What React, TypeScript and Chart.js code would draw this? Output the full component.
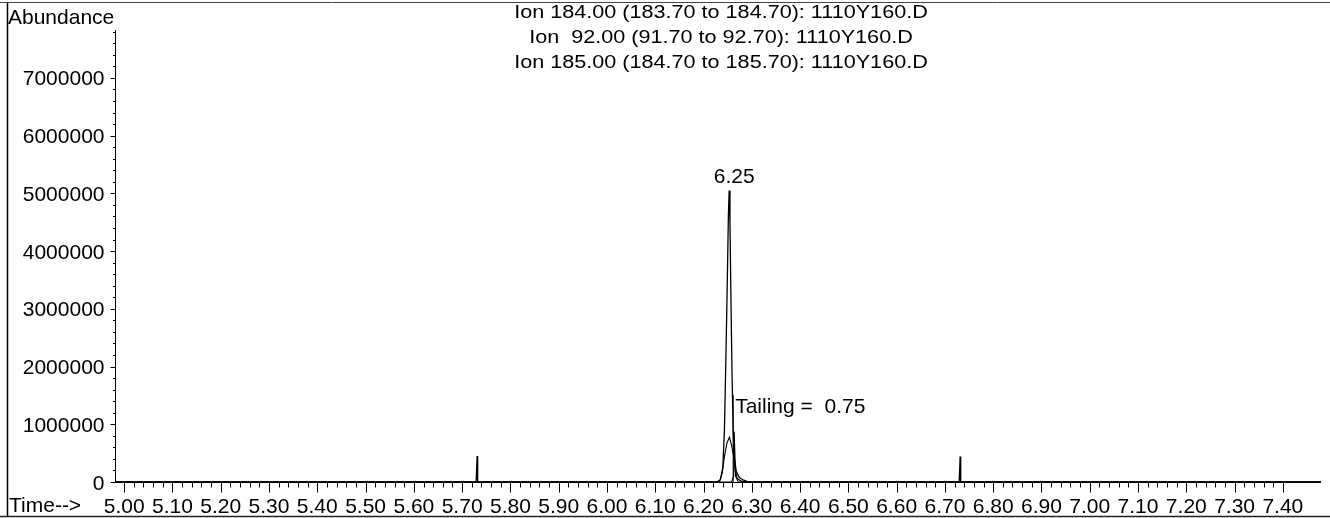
import React, { useEffect, useRef } from "react";
import { Chart, registerables } from "chart.js";

Chart.register(...registerables);

// ---- data ----
const titleLines = [
  "Ion 184.00 (183.70 to 184.70): 1110Y160.D",
  "Ion  92.00 (91.70 to 92.70): 1110Y160.D",
  "Ion 185.00 (184.70 to 185.70): 1110Y160.D",
];

const ion184Time = [4.981, 5.729, 5.7311, 5.7322, 6.228, 6.235, 6.24, 6.2433, 6.2465, 6.2489, 6.2515, 6.2531, 6.2548, 6.2566, 6.259, 6.2614, 6.264, 6.268, 6.274, 6.282, 6.29, 6.3, 6.7295, 6.7316, 6.7327, 7.479];
const ion184Abund = [0, 0, 450000, 0, 0, 40000, 250000, 900000, 2200000, 3300000, 4600000, 5050000, 4500000, 3300000, 1900000, 900000, 400000, 180000, 80000, 35000, 10000, 0, 0, 440000, 0, 0];

const ion92Time = [4.981, 6.225, 6.2336, 6.2385, 6.2433, 6.2487, 6.2538, 6.2585, 6.2627, 6.2655, 6.27, 6.278, 6.29, 7.479];
const ion92Abund = [0, 0, 20000, 150000, 440000, 680000, 775000, 620000, 440000, 200000, 60000, 15000, 0, 0];

const ion185Time = [4.981, 6.258, 6.2625, 6.2636, 6.2652, 6.2664, 6.272, 7.479];
const ion185Abund = [0, 0, 100000, 870000, 870000, 100000, 0, 0];

const tailingTime = [6.2614, 6.2614];
const tailingAbund = [0, 1510000];

const apexTime = 6.2531;
const apexAbund = 5050000;
const apexLabel = "6.25";
const tailingLabel = "Tailing =  0.75";

const xMajorTicks = [5.0, 5.1, 5.2, 5.3, 5.4, 5.5, 5.6, 5.7, 5.8, 5.9, 6.0, 6.1, 6.2, 6.3, 6.4, 6.5, 6.6, 6.7, 6.8, 6.9, 7.0, 7.1, 7.2, 7.3, 7.4];
const xTickLabels = ["5.00", "5.10", "5.20", "5.30", "5.40", "5.50", "5.60", "5.70", "5.80", "5.90", "6.00", "6.10", "6.20", "6.30", "6.40", "6.50", "6.60", "6.70", "6.80", "6.90", "7.00", "7.10", "7.20", "7.30", "7.40"];
const yMajorTicks = [0, 1000000, 2000000, 3000000, 4000000, 5000000, 6000000, 7000000];
const yTickLabels = ["0", "1000000", "2000000", "3000000", "4000000", "5000000", "6000000", "7000000"];

const X_MIN = 4.981;
const X_MAX = 7.479;
const Y_MIN = 0;
const Y_MAX = 7830000;

const toPoints = (xs: number[], ys: number[]) => xs.map((x, i) => ({ x, y: ys[i] }));

const FAMILY = '"Liberation Sans", Arial, Helvetica, sans-serif';
const FONT = "21px " + FAMILY;
const TITLE_FONT = "18px " + FAMILY;

const decorPlugin = {
  id: "decor",
  afterDraw(chart: any) {
    const ctx = chart.ctx as CanvasRenderingContext2D;
    const xs = chart.scales.x;
    const ys = chart.scales.y;
    const area = chart.chartArea;
    const W = chart.width;
    const H = chart.height;
    ctx.save();
    ctx.strokeStyle = "#000";
    ctx.fillStyle = "#000";

    // outer frame (left, top, bottom)
    ctx.lineWidth = 1.5;
    ctx.beginPath();
    ctx.moveTo(7.5, 2);
    ctx.lineTo(7.5, H - 1);
    ctx.stroke();
    ctx.strokeStyle = "#444";
    ctx.lineWidth = 1;
    ctx.beginPath();
    ctx.moveTo(0, 2.5);
    ctx.lineTo(W, 2.5);
    ctx.stroke();
    ctx.lineWidth = 1.5;
    ctx.strokeStyle = "#222";
    ctx.beginPath();
    ctx.moveTo(0, H - 1.5);
    ctx.lineTo(W, H - 1.5);
    ctx.stroke();
    ctx.strokeStyle = "#000";

    // axes
    const x0 = Math.round(area.left) + 0.5;
    const y0 = Math.round(area.bottom) + 0.5;
    ctx.lineWidth = 1;
    ctx.beginPath();
    ctx.moveTo(x0, area.top);
    ctx.lineTo(x0, y0);
    ctx.lineTo(area.right, y0);
    ctx.stroke();

    // y ticks: minor every 200000, major every 1000000
    for (let v = 0; v <= Y_MAX; v += 200000) {
      const py = Math.round(ys.getPixelForValue(v)) + 0.5;
      const major = v % 1000000 === 0;
      ctx.beginPath();
      ctx.moveTo(x0, py);
      ctx.lineTo(x0 - (major ? 5 : 2.5), py);
      ctx.stroke();
    }
    // x ticks: minor every 0.02, major every 0.1
    for (let k = 0; k <= 120; k++) {
      const v = 5.0 + k * 0.02;
      if (v > X_MAX) break;
      const px = Math.round(xs.getPixelForValue(v)) + 0.5;
      const major = k % 5 === 0;
      ctx.beginPath();
      ctx.moveTo(px, y0);
      ctx.lineTo(px, y0 + (major ? 10 : 5));
      ctx.stroke();
    }

    ctx.font = FONT;
    ctx.textBaseline = "alphabetic";

    // y tick labels
    ctx.textAlign = "right";
    yMajorTicks.forEach((v, i) => {
      const py = ys.getPixelForValue(v);
      ctx.fillText(yTickLabels[i], x0 - 11, py + 7.5);
    });
    // x tick labels
    ctx.textAlign = "center";
    xMajorTicks.forEach((v, i) => {
      const px = xs.getPixelForValue(v);
      ctx.fillText(xTickLabels[i], px, 513);
    });

    // axis titles
    ctx.textAlign = "left";
    ctx.fillText("Abundance", 8, 24);
    ctx.fillText("Time-->", 9, 512);

    // annotations
    ctx.textAlign = "center";
    ctx.fillText(apexLabel, xs.getPixelForValue(apexTime) + 5, ys.getPixelForValue(apexAbund) - 7);
    ctx.textAlign = "left";
    ctx.fillText(tailingLabel, xs.getPixelForValue(tailingTime[0]) + 2, ys.getPixelForValue(tailingAbund[1]) + 18);

    // title lines (horizontally stretched, as in the scanned original)
    ctx.font = TITLE_FONT;
    ctx.textAlign = "center";
    titleLines.forEach((t, i) => {
      ctx.save();
      ctx.translate(721, 17.5 + i * 25);
      ctx.scale(1.2, 1);
      ctx.fillText(t, 0, 0);
      ctx.restore();
    });

    ctx.restore();
  },
};

export default function App() {
  const canvasRef = useRef<HTMLCanvasElement | null>(null);

  useEffect(() => {
    document.body.style.margin = "0";
    document.body.style.background = "#fff";
    const canvas = canvasRef.current;
    if (!canvas) return;
    const line = (xs: number[], ys: number[], w = 1) => ({
      data: toPoints(xs, ys),
      borderColor: "#000",
      borderWidth: w,
      pointRadius: 0,
      fill: false,
      tension: 0,
    });
    const chart = new Chart(canvas, {
      type: "line",
      data: {
        datasets: [
          { label: "Ion 184.00", ...line(ion184Time, ion184Abund, 1.3) },
          { label: "Ion 92.00", ...line(ion92Time, ion92Abund, 1.1) },
          { label: "Ion 185.00", ...line(ion185Time, ion185Abund, 1.1) },
          { label: "Tailing", ...line(tailingTime, tailingAbund, 1) },
        ],
      },
      options: {
        responsive: false,
        animation: false,
        layout: { padding: { left: 115, right: 9, top: 30, bottom: 36 } },
        plugins: {
          legend: { display: false },
          tooltip: { enabled: false },
          title: { display: false },
        },
        scales: {
          x: { type: "linear", min: X_MIN, max: X_MAX, display: false },
          y: { type: "linear", min: Y_MIN, max: Y_MAX, display: false },
        },
      },
      plugins: [decorPlugin],
    } as any);
    return () => chart.destroy();
  }, []);

  return (
    <div style={{ width: 1330, height: 518, background: "#fff" }}>
      <canvas ref={canvasRef} width={1330} height={518} style={{ display: "block" }} />
    </div>
  );
}
